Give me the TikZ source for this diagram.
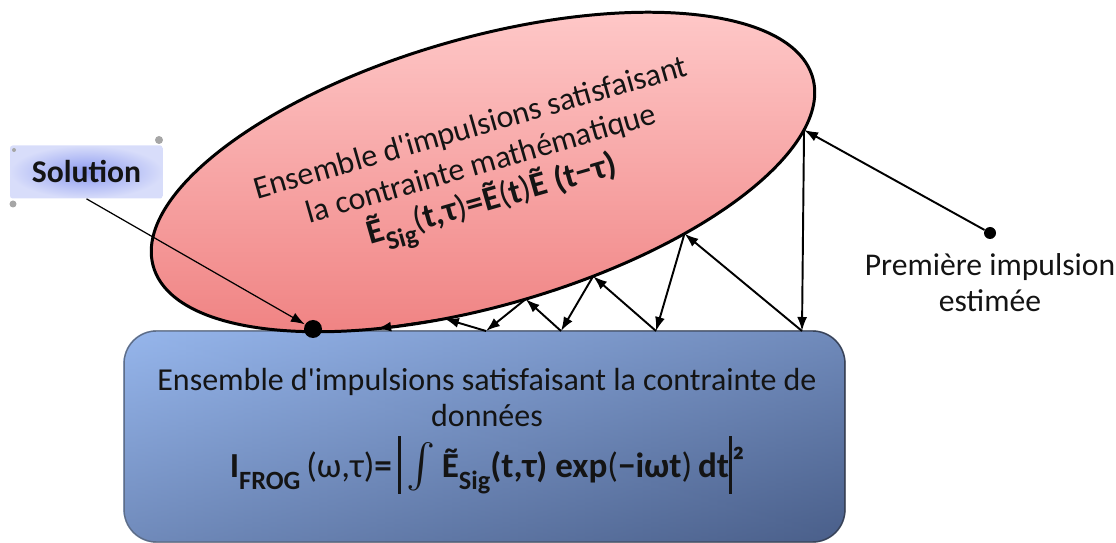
\documentclass[tikz,border=0pt]{standalone}
\usepackage{amsmath}
\usepackage{fontspec}
\setmainfont{Carlito}[Ligatures=TeXOff]
\usepackage{tikz}
\usetikzlibrary{arrows.meta,shapes.geometric,positioning,calc}

\definecolor{elltop}{HTML}{FFCCCC}
\definecolor{ellbot}{HTML}{EF7F7F}
\definecolor{boxlight}{HTML}{96B6EC}
\definecolor{boxdark}{HTML}{4A5F8A}
\definecolor{solin}{HTML}{8C9AF0}
\definecolor{solout}{HTML}{D8DDFA}
\definecolor{inkc}{HTML}{141414}

\newcommand{\bigbar}{\rule[-0.45em]{0.09em}{1.65em}}
\newcommand{\sub}[1]{\raisebox{-0.32em}{\fontsize{15}{15}\selectfont\bfseries #1}}

\begin{document}
\begin{tikzpicture}[x=0.02cm, y=-0.02cm,
  every node/.style={font=\fontsize{18}{20.5}\selectfont, text=inkc},
  mathell/.style={ellipse, draw, line width=1.7pt, top color=elltop, bottom color=ellbot,
    minimum width=13.72cm, minimum height=5.36cm, inner sep=0pt, rotate=16},
  elltext/.style={align=center, rotate=16, font=\fontsize{18.2}{21.3}\selectfont},
  databox/.style={rectangle, rounded corners=0.65cm, draw=black!85, line width=0.8pt,
    top color=boxlight, bottom color=boxdark,
    minimum width=14.42cm, minimum height=4.22cm},
  boxtint/.style={rounded corners=0.65cm, left color=boxlight, right color=boxdark, fill opacity=0.5},
  datatext/.style={align=center, font=\fontsize{18.2}{20.5}\selectfont},
  solbox/.style={rectangle, rounded corners=1.5pt, inner color=solin, outer color=solout,
    minimum width=3.06cm, minimum height=1.06cm, font=\fontsize{18}{22}\selectfont\bfseries},
  blackdot/.style={circle, fill=black, inner sep=0pt, minimum size=0.24cm},
  arr/.style={-{Latex[length=2.8mm,width=2mm]}, line width=1.1pt},
  thinarr/.style={-{Latex[length=2.8mm,width=2mm]}, line width=0.7pt},
  curl/.style={fill=black!35},
]
\useasboundingbox (0,0) rectangle (1116,543);

% data constraint set
\node[databox] (data) at (484.5,436.5) {};
\path[boxtint] (data.north west) rectangle (data.south east);
\node[datatext] (dtext) at (487,431) {Ensemble d'impulsions satisfaisant la contrainte de\\données\\[4pt]
  {\fontsize{20}{20}\selectfont\textbf{I\sub{FROG}}\,(ω,τ)\textbf{=}\,\bigbar\,{\fontsize{24}{24}\selectfont$\int$}\,\textbf{Ẽ\sub{Sig}(t,τ) exp}(\textbf{−iωt})\,\textbf{dt}\bigbar\raisebox{0.1em}{\textbf{²}}}};

% mathematical constraint set
\node[mathell] (math) at (483,172) {};
\node[elltext] (mtext) at (483,170) {Ensemble d'impulsions satisfaisant\\la contrainte mathématique\\
  {\fontsize{19.5}{20}\selectfont\textbf{Ẽ\sub{Sig}}(\textbf{t,τ})\textbf{=Ẽ}(\textbf{t})\textbf{Ẽ (t−τ)}}};

% points on the ellipse and on the box
\begin{scope}[shift={(483,172)}, rotate=16]
  \foreach \t [count=\i from 0] in {21,59,77,89,103,115}
    \coordinate (e\i) at ({343*cos(\t)},{134*sin(\t)});
\end{scope}
\coordinate (b0) at (802,331);
\coordinate (b1) at (656,331);
\coordinate (b2) at (561,331);
\coordinate (b3) at (486,331);

% first guess
\node[blackdot] (first) at (990,233) {};
\node (firstlbl) at (990,283) [align=center] {Première impulsion\\estimée};

% projections
\draw[arr] (first) -- (e0);
\draw[arr] (e0) -- (b0);
\draw[arr] (b0) -- (e1);
\draw[arr] (e1) -- (b1);
\draw[arr] (b1) -- (e2);
\draw[arr] (e2) -- (b2);
\draw[arr] (b2) -- (e3);
\draw[arr] (e3) -- (b3);
\draw[arr] (b3) -- (e4);
\draw[arr] (e4) -- (e5);

% solution
\node[solbox] (solbox) at (86.5,172) {Solution};
\fill[curl] (159,140) circle (4);
\fill[curl] (14,150) circle (2);
\fill[curl] (13,204) circle (3.5);
\node[blackdot, minimum size=0.36cm] (sol) at (313,329) {};
\draw[thinarr] (solbox.south) -- (sol);
\end{tikzpicture}
\end{document}
